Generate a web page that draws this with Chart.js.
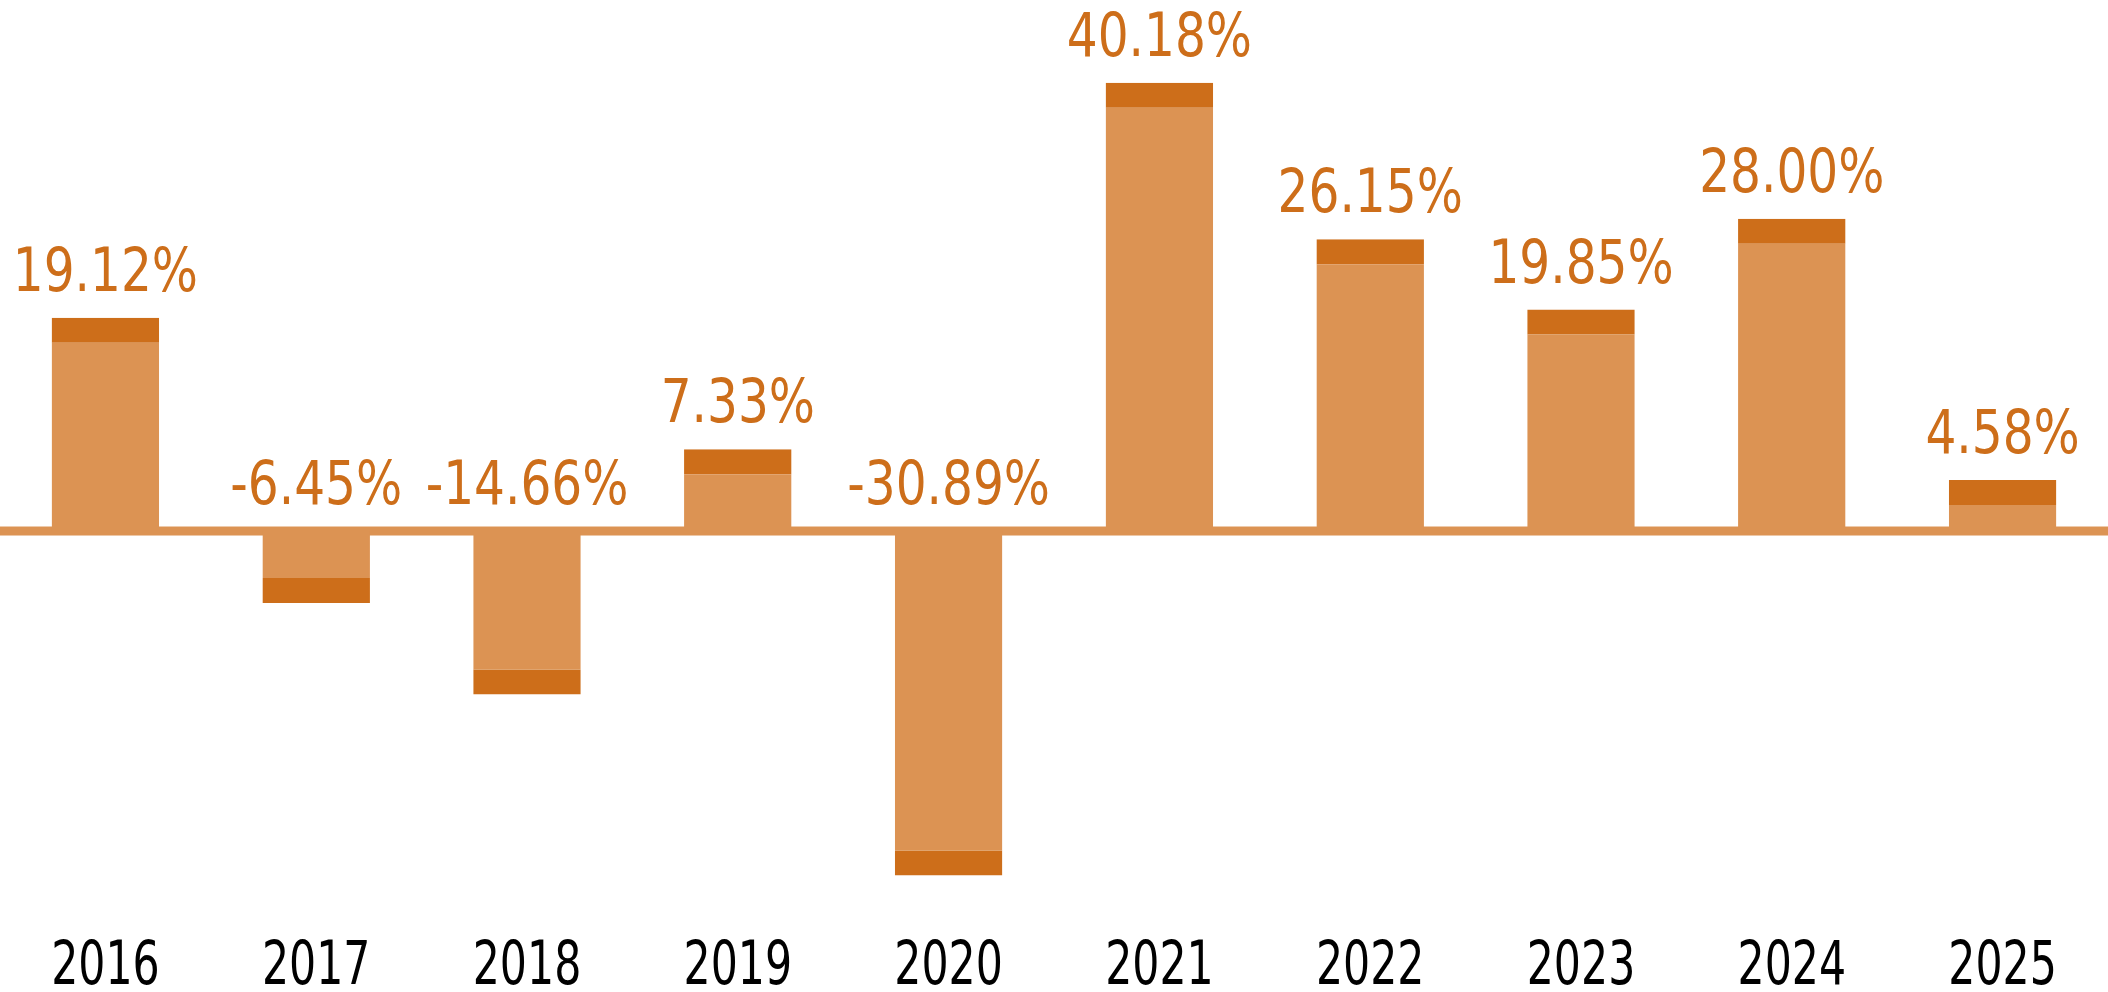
<!DOCTYPE html>
<html lang="en">
<head>
<meta charset="UTF-8">
<title>Annual returns</title>
<script src="https://cdn.jsdelivr.net/npm/chart.js@4.4.1/dist/chart.umd.min.js"></script>
<style>
  html, body { margin: 0; padding: 0; background: #fff; }
  #wrap { width: 2108px; height: 992px; }
</style>
</head>
<body>
<div id="wrap"><canvas id="chart" width="2108" height="992"></canvas></div>
<script>
const years = ['2016', '2017', '2018', '2019', '2020', '2021', '2022', '2023', '2024', '2025'];
const returns = [19.12, -6.45, -14.66, 7.33, -30.89, 40.18, 26.15, 19.85, 28.00, 4.58];
const yMin = -32;
const yMax = 45;

const lightOrange = '#dc9353';
const darkOrange = '#cd6e1a';
const fontName = '"DejaVu Sans Condensed", "DejaVu Sans", sans-serif';

// thick line across the whole width at zero
const zeroLine = {
  id: 'zeroLine',
  beforeDatasetsDraw(chart) {
    const y = chart.scales.y.getPixelForValue(0);
    const ctx = chart.ctx;
    ctx.save();
    ctx.fillStyle = lightOrange;
    ctx.fillRect(0, y - 4.5, chart.width, 9);
    ctx.restore();
  }
};

// draw text squeezed sideways (the original uses a condensed face)
function narrowText(ctx, text, x, y, squeeze) {
  ctx.save();
  ctx.translate(x, y);
  ctx.scale(squeeze, 1);
  ctx.fillText(text, 0, 0);
  ctx.restore();
}

// percentage labels above bars / above zero line for negatives, years under the plot
const labelsPlugin = {
  id: 'labelsPlugin',
  afterDatasetsDraw(chart) {
    const ctx = chart.ctx;
    const zeroY = chart.scales.y.getPixelForValue(0);
    const meta = chart.getDatasetMeta(0);
    ctx.save();
    ctx.textAlign = 'center';
    ctx.textBaseline = 'alphabetic';
    ctx.fillStyle = darkOrange;
    ctx.font = '60px ' + fontName;
    meta.data.forEach((bar, i) => {
      const v = returns[i];
      const y = v >= 0 ? bar.y - 27 : zeroY - 27;
      narrowText(ctx, v.toFixed(2) + '%', bar.x, y, 0.9);
    });
    ctx.fillStyle = '#000000';
    ctx.font = '60px ' + fontName;
    years.forEach((yr, i) => {
      narrowText(ctx, yr, chart.scales.x.getPixelForTick(i), 984, 0.79);
    });
    ctx.restore();
  }
};

new Chart(document.getElementById('chart'), {
  type: 'bar',
  data: {
    labels: years,
    datasets: [{
      data: returns,
      backgroundColor: lightOrange,
      borderColor: darkOrange,
      borderWidth: (ctx) => {
        const v = ctx.raw;
        return v >= 0 ? { top: 25, right: 0, bottom: 0, left: 0 } : { top: 0, right: 0, bottom: 25, left: 0 };
      },
      borderSkipped: false,
      categoryPercentage: 1,
      barPercentage: 0.51
    }]
  },
  options: {
    responsive: false,
    animation: false,
    layout: { padding: { top: 29, left: 0, right: 0, bottom: 104 } },
    plugins: {
      legend: { display: false },
      tooltip: { enabled: false }
    },
    scales: {
      x: { display: false },
      y: { display: false, min: yMin, max: yMax }
    }
  },
  plugins: [zeroLine, labelsPlugin]
});
</script>
</body>
</html>
